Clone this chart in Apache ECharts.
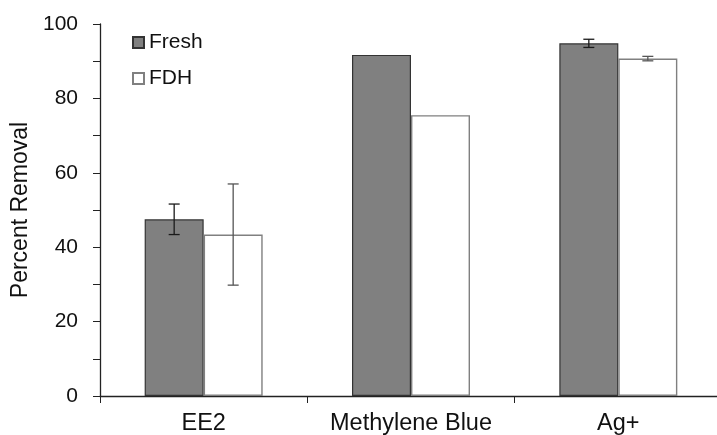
<!DOCTYPE html>
<html>
<head>
<meta charset="utf-8">
<script src="https://cdn.jsdelivr.net/npm/echarts@6/dist/echarts.min.js"></script>
<style>
  html, body { margin: 0; padding: 0; background: #fff; }
  #chart { width: 717px; height: 435px; }
</style>
</head>
<body>
<div id="chart"></div>
<script>
// Percent removal by treatment, fresh vs FDH material
var categories = ['EE2', 'Methylene Blue', 'Ag+'];
var seriesNames = ['Fresh', 'FDH'];
var freshValues = [47.5, 91.7, 94.8];
var freshErrors = [4.1, null, 1.1];
var fdhValues = [43.4, 75.5, 90.7];
var fdhErrors = [13.6, null, 0.6];
var yTicks = [0, 20, 40, 60, 80, 100];

var FONT = '"Liberation Sans", Arial, sans-serif';
var BAR_W = 59;

function errorData(values, errors) {
  var out = [];
  for (var i = 0; i < values.length; i++) {
    if (errors[i] != null) out.push([i, values[i], errors[i]]);
  }
  return out;
}

function errorRenderer(offset, color) {
  return function (params, api) {
    var idx = api.value(0), v = api.value(1), e = api.value(2);
    var hi = api.coord([idx, v + e]);
    var lo = api.coord([idx, v - e]);
    var x = hi[0] + offset;
    var cap = 5.5;
    var style = { stroke: color, lineWidth: 1.3 };
    return {
      type: 'group',
      children: [
        { type: 'line', shape: { x1: x, y1: hi[1], x2: x, y2: lo[1] }, style: style },
        { type: 'line', shape: { x1: x - cap, y1: hi[1], x2: x + cap, y2: hi[1] }, style: style },
        { type: 'line', shape: { x1: x - cap, y1: lo[1], x2: x + cap, y2: lo[1] }, style: style }
      ]
    };
  };
}

var chart = echarts.init(document.getElementById('chart'));
chart.setOption({
  animation: false,
  backgroundColor: '#fff',
  textStyle: { fontFamily: FONT, color: '#111' },
  grid: { left: 100, right: -5, top: 24, bottom: 39, containLabel: false, outerBoundsMode: 'none' },
  legend: {
    data: seriesNames,
    orient: 'vertical',
    left: 127,
    top: 27,
    icon: 'rect',
    itemWidth: 11,
    itemHeight: 11,
    itemGap: 15,
    textStyle: { fontFamily: FONT, fontSize: 21, color: '#111', lineHeight: 20, padding: [0, 0, 0, 0] }
  },
  xAxis: {
    type: 'category',
    data: categories,
    axisLine: { lineStyle: { color: '#222', width: 1.3 } },
    axisTick: { show: true, interval: 0, length: 7, lineStyle: { color: '#222' } },
    axisLabel: { interval: 0, hideOverlap: false, fontFamily: FONT, fontSize: 23.5, color: '#111', margin: 16 }
  },
  yAxis: {
    type: 'value',
    min: 0,
    max: 100,
    interval: 10,
    name: 'Percent Removal',
    nameLocation: 'middle',
    nameGap: 67,
    nameTextStyle: { fontFamily: FONT, fontSize: 23, color: '#111' },
    axisLine: { show: true, lineStyle: { color: '#222', width: 1.3 } },
    axisTick: { show: true, length: 7, lineStyle: { color: '#222' } },
    splitLine: { show: false },
    axisLabel: {
      fontFamily: FONT,
      fontSize: 21,
      color: '#111',
      margin: 22,
      formatter: function (v) { return yTicks.indexOf(v) >= 0 ? String(v) : ''; }
    }
  },
  series: [
    {
      name: 'Fresh',
      type: 'bar',
      data: freshValues,
      barWidth: BAR_W,
      barGap: '0%',
      itemStyle: { color: '#808080', borderColor: '#333', borderWidth: 1.2 }
    },
    {
      name: 'FDH',
      type: 'bar',
      data: fdhValues,
      barWidth: BAR_W,
      barGap: '0%',
      itemStyle: { color: '#fff', borderColor: '#808080', borderWidth: 1.4 }
    },
    {
      name: 'Fresh error',
      type: 'custom',
      data: errorData(freshValues, freshErrors),
      renderItem: errorRenderer(-BAR_W / 2, '#1a1a1a'),
      encode: { x: 0, y: 1 },
      z: 5,
      silent: true
    },
    {
      name: 'FDH error',
      type: 'custom',
      data: errorData(fdhValues, fdhErrors),
      renderItem: errorRenderer(BAR_W / 2, '#555'),
      encode: { x: 0, y: 1 },
      z: 5,
      silent: true
    }
  ]
});
</script>
</body>
</html>
